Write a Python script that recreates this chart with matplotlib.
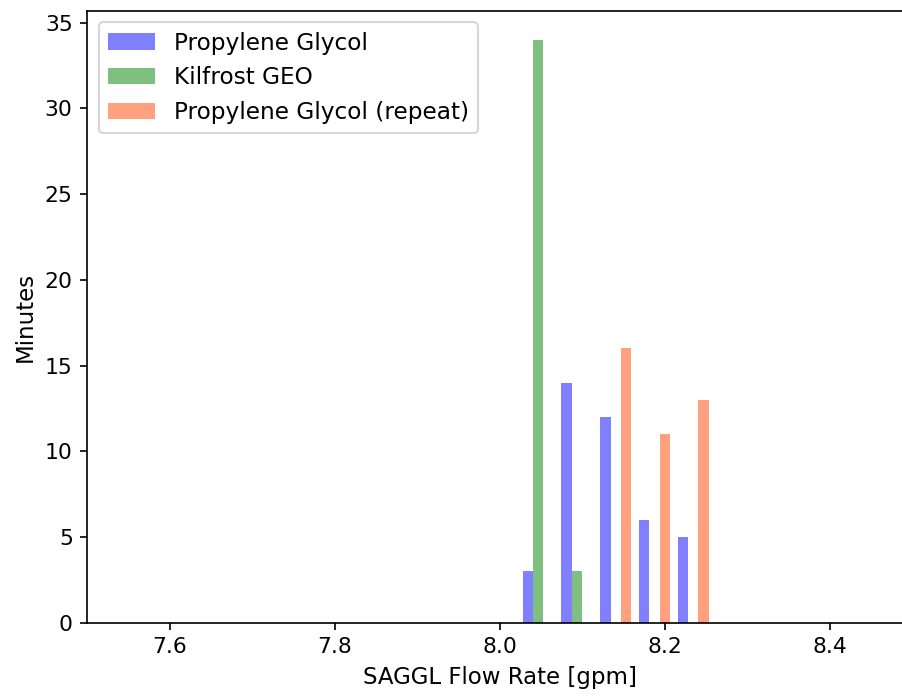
import numpy as np
import matplotlib
matplotlib.use("Agg")
import matplotlib.pyplot as plt

# histogram bins (gpm) and minutes per bin
bin_edges = [8.023, 8.070, 8.117, 8.164, 8.211, 8.258]
pg_minutes = [3, 14, 12, 6, 5]
geo_minutes = [34, 3, 0, 0, 0]
pg_repeat_minutes = [0, 0, 16, 11, 13]

labels = ["Propylene Glycol", "Kilfrost GEO", "Propylene Glycol (repeat)"]
colors = ["blue", "green", "orangered"]

edges = np.array(bin_edges)
centers = (edges[:-1] + edges[1:]) / 2

fig = plt.figure(figsize=(903 / 150, 696 / 150), dpi=150)
ax = fig.add_axes([87.3 / 903, 73.3 / 696, 825 / 903, 612 / 696])

ax.hist([centers, centers, centers], bins=edges,
        weights=[pg_minutes, geo_minutes, pg_repeat_minutes],
        color=colors, alpha=0.5, label=labels)

ax.set_xlim(7.5, 8.5)
ax.set_xticks([7.6, 7.8, 8.0, 8.2, 8.4])
ax.tick_params(labelsize=10.5)
ax.set_xlabel("SAGGL Flow Rate [gpm]", fontsize=11)
ax.set_ylabel("Minutes", fontsize=11)
ax.legend(loc="upper left", fontsize=11.2)

fig.savefig("out.png", dpi=150)
